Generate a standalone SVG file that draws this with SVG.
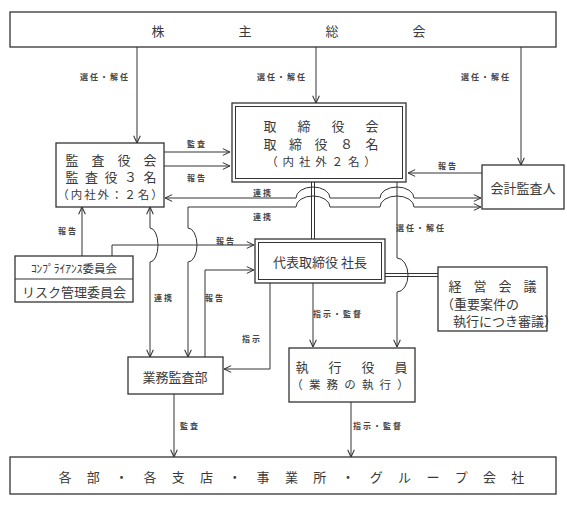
<svg xmlns="http://www.w3.org/2000/svg" width="567" height="506" viewBox="0 0 567 506">
<defs>
<marker id="a" viewBox="0 0 10 10" refX="9.5" refY="5" markerWidth="8" markerHeight="8" markerUnits="userSpaceOnUse" orient="auto-start-reverse">
<path d="M0.5,0.8 L9.5,5 L0.5,9.2" fill="none" stroke="#333" stroke-width="1.3"/>
</marker>
<style>
.box{fill:#fff;stroke:#333;stroke-width:1.3}
.in{fill:none;stroke:#333;stroke-width:1}
.ln{fill:none;stroke:#333;stroke-width:1}
.ar{marker-end:url(#a)}
.bi{marker-start:url(#a);marker-end:url(#a)}
.t{font-family:"Noto Sans CJK JP","Noto Sans CJK SC",sans-serif;fill:#3a3a3a;font-size:13px;text-anchor:middle;dominant-baseline:central}
.s{font-size:11.5px}
.lb{font-size:8px;font-weight:bold;letter-spacing:2px;fill:#444}
.ls{text-anchor:start}
</style>
</defs>
<rect width="567" height="506" fill="#fff"/>

<g id="connectors">
<path class="ln ar" d="M137,47 V143"/>
<path class="ln ar" d="M316,47 V103"/>
<path class="ln ar" d="M521,47 V165"/>
<path class="ln ar" d="M164,152 H230"/>
<path class="ln ar" d="M164,166 H230"/>
<path class="ln ar" d="M482,173 H408"/>
<path class="ln bi" d="M165,198 H296 A17,11 0 0 1 330,198 H380 A17,11 0 0 1 414,198 H481"/>
<path class="ln bi" d="M188,357 V262 A9,17 0 0 0 188,228 V207 H296 A17,11 0 0 1 330,207 H380 A17,11 0 0 1 414,207 H481"/>
<path class="ln bi" d="M150,207 V228 A8,17 0 0 1 150,262 V357"/>
<path class="ln ar" d="M82,256 V207"/>
<path class="ln ar" d="M112,256 V245 H254"/>
<path class="ln ar" d="M205,357 V270 H254"/>
<path class="ln" d="M311.5,182 V239 M314.5,182 V239"/>
<path class="ln" d="M385,273.5 H438 M385,276.5 H438"/>
<path class="ln ar" d="M397,182 V258 A11,17 0 0 1 397,292 V347"/>
<path class="ln ar" d="M313,283 V347"/>
<path class="ln ar" d="M270,283 V369 H224"/>
<path class="ln ar" d="M174,394 V457"/>
<path class="ln ar" d="M351,402 V457"/>
<g class="t lb">
<text x="105" y="76">選任・解任</text>
<text x="282" y="76">選任・解任</text>
<text x="486" y="76">選任・解任</text>
<text x="197" y="143">監査</text>
<text x="197" y="177">報告</text>
<text x="448" y="165">報告</text>
<text x="263" y="192">連携</text>
<text x="263" y="216">連携</text>
<text x="68" y="230">報告</text>
<text x="226" y="240">報告</text>
<text x="421" y="227">選任・解任</text>
<text x="164" y="297">連携</text>
<text x="215" y="297">報告</text>
<text x="252" y="338">指示</text>
<text x="338" y="313">指示・監督</text>
<text x="190" y="425">監査</text>
<text x="378" y="425">指示・監督</text>
</g>
</g>

<g id="shareholders">
<rect class="box" x="10" y="12" width="546" height="35" stroke-width="1.8"/>
<text class="t" x="158 245 332 419" y="30">株主総会</text>
</g>

<g id="board">
<rect class="box" x="232" y="103" width="174" height="79" stroke-width="1.8"/>
<rect class="in" x="235.5" y="106.5" width="167" height="72"/>
<text class="t" x="270 304 338 372" y="125">取締役会</text>
<text class="t" x="270 295.5 321 346.5 372" y="143">取締役８名</text>
<text class="t s" x="272 288.3 304.7 321 337.3 353.7 370" y="160.5">（内社外２名）</text>
</g>

<g id="auditors">
<rect class="box" x="56" y="143" width="108" height="64"/>
<text class="t" x="72 98 124 150" y="159">監査役会</text>
<text class="t" x="72 91.5 111 130.5 150" y="176.5">監査役３名</text>
<text class="t s" x="63 76.4 89.9 103.3 116.7 130.1 143.6 157" y="193.5">（内社外：２名）</text>
</g>

<g id="accounting-auditor">
<rect class="box" x="482" y="165" width="82" height="44"/>
<text class="t" x="523" y="187">会計監査人</text>
</g>

<g id="president">
<rect class="box" x="255" y="239" width="130" height="44" stroke-width="1.8"/>
<rect class="in" x="258.5" y="242.5" width="123" height="37"/>
<text class="t" x="320" y="261">代表取締役 社長</text>
</g>

<g id="management-meeting">
<rect class="box" x="438" y="267" width="109" height="64"/>
<text class="t" x="455 480 505 530" y="285">経営会議</text>
<text class="t ls" x="441" y="303" font-size="10">（重要案件の</text>
<text class="t ls" x="453" y="320" font-size="10">執行につき審議）</text>
</g>

<g id="committees">
<rect class="box" x="15" y="256" width="118" height="46"/>
<line class="ln" x1="15" y1="279" x2="133" y2="279"/>
<text class="t s" x="74" y="268">ｺﾝﾌﾟﾗｲｱﾝｽ委員会</text>
<text class="t" x="74" y="291">リスク管理委員会</text>
</g>

<g id="internal-audit">
<rect class="box" x="128" y="357" width="95" height="37"/>
<text class="t" x="175" y="376">業務監査部</text>
</g>

<g id="executive-officers">
<rect class="box" x="289" y="348" width="126" height="54"/>
<text class="t" x="302 335 368 401" y="366">執行役員</text>
<text class="t s" x="297 314.7 332.3 350 367.7 385.3 403" y="384">（業務の執行）</text>
</g>

<g id="departments">
<rect class="box" x="10" y="457" width="546" height="37"/>
<text class="t" x="65 93.3 121.6 149.9 178.2 206.5 234.8 263.1 291.4 319.7 348 376.3 404.6 432.9 461.2 489.5 517.8" y="476">各部・各支店・事業所・グループ会社</text>
</g>
</svg>
